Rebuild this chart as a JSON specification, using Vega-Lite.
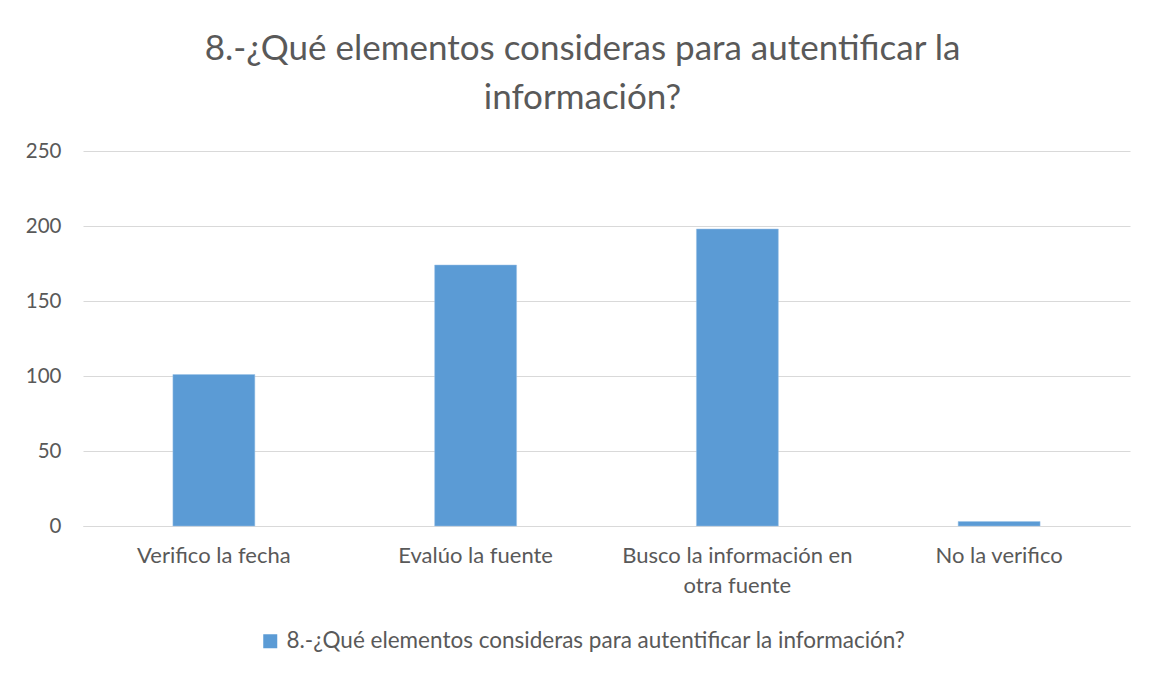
{
  "$schema": "https://vega.github.io/schema/vega-lite/v6.json",
  "width": 1047,
  "height": 375,
  "autosize": {"type": "none"},
  "padding": {"left": 83, "top": 151, "right": 21, "bottom": 147},
  "background": "white",
  "title": {
    "text": ["8.-¿Qué elementos consideras para autentificar la", "información?"],
    "anchor": "middle",
    "dx": -24,
    "offset": 25,
    "font": "Lato",
    "fontSize": 35,
    "fontWeight": "normal",
    "color": "#595959",
    "lineHeight": 49
  },
  "data": {
    "values": [
      {"categoria": "Verifico la fecha", "valor": 101, "serie": "8.-¿Qué elementos consideras para autentificar la información?"},
      {"categoria": "Evalúo la fuente", "valor": 174, "serie": "8.-¿Qué elementos consideras para autentificar la información?"},
      {"categoria": "Busco la información en otra fuente", "valor": 198, "serie": "8.-¿Qué elementos consideras para autentificar la información?"},
      {"categoria": "No la verifico", "valor": 3, "serie": "8.-¿Qué elementos consideras para autentificar la información?"}
    ]
  },
  "mark": {"type": "bar", "stroke": "#9DC3E6", "strokeWidth": 0.5},
  "encoding": {
    "x": {
      "field": "categoria",
      "type": "nominal",
      "sort": null,
      "title": null,
      "scale": {"paddingInner": 0.687, "paddingOuter": 0.3435},
      "axis": {
        "labelAngle": 0,
        "labelFont": "Lato",
        "labelFontSize": 22,
        "labelColor": "#595959",
        "labelPadding": 19,
        "labelLineHeight": 30,
        "labelLimit": 400,
        "ticks": false,
        "domainColor": "#D9D9D9",
        "labelExpr": "datum.label == 'Busco la información en otra fuente' ? ['Busco la información en', 'otra fuente'] : datum.label"
      }
    },
    "y": {
      "field": "valor",
      "type": "quantitative",
      "title": null,
      "scale": {"domain": [0, 250]},
      "axis": {
        "values": [0, 50, 100, 150, 200, 250],
        "labelFont": "Lato",
        "labelFontSize": 20.5,
        "labelColor": "#595959",
        "labelPadding": 22,
        "ticks": false,
        "domain": false,
        "gridColor": "#D9D9D9",
        "gridWidth": 1
      }
    },
    "color": {
      "field": "serie",
      "type": "nominal",
      "scale": {"range": ["#5B9BD5"]},
      "legend": {
        "title": null,
        "orient": "none",
        "legendX": 176,
        "legendY": 479,
        "symbolType": "square",
        "symbolSize": 196,
        "symbolStrokeWidth": 0,
        "labelFont": "Lato",
        "labelFontSize": 22.5,
        "labelColor": "#595959",
        "labelOffset": 5,
        "labelLimit": 900
      }
    }
  },
  "config": {"view": {"stroke": null}}
}
